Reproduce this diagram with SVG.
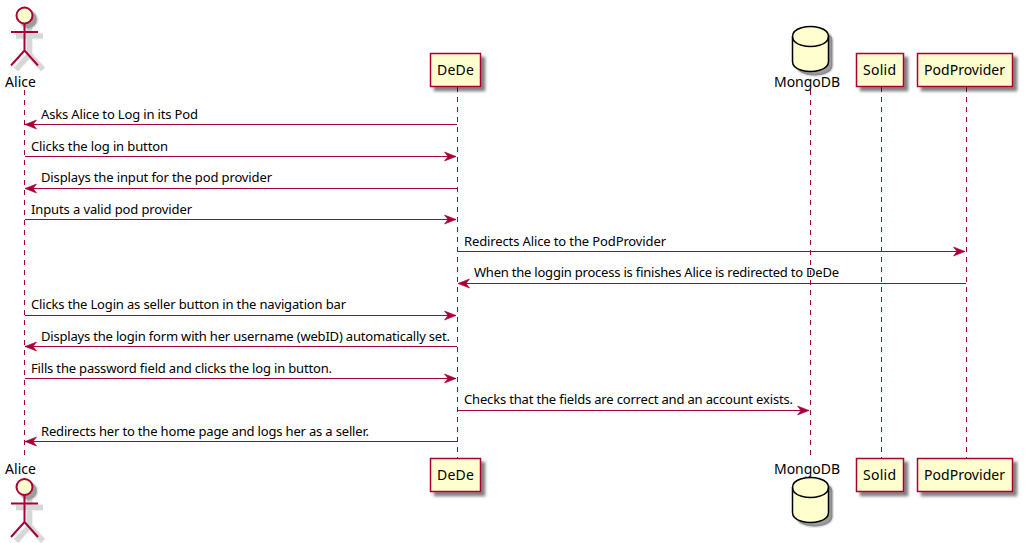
<svg xmlns="http://www.w3.org/2000/svg" width="1025" height="543" viewBox="0 0 1025 543">
<style>
text{font-family:"Noto Sans","DejaVu Sans",sans-serif;fill:#000}
.n{font-size:14px}
.m{font-size:13px}
.box{fill:#FEFECE;stroke:#A80036;stroke-width:1.5}
.act{fill:none;stroke:#A80036;stroke-width:2}
.head{fill:#FEFECE;stroke:#A80036;stroke-width:2}
.as1{fill:none;stroke:#000;stroke-opacity:.06;stroke-width:7}
.as2{fill:none;stroke:#000;stroke-opacity:.1;stroke-width:5}
.hs1{fill:#000;fill-opacity:.12}
.hs2{fill:#000;fill-opacity:.3}
.ds1{fill:#000;fill-opacity:.12;stroke:#000;stroke-opacity:.1;stroke-width:3}
.ds2{fill:#000;fill-opacity:.3}
.db{fill:#FEFECE;stroke:#000;stroke-width:1.5}
.dbl{fill:none;stroke:#000;stroke-width:1.5}
.life{stroke:#A80036;stroke-width:1;stroke-dasharray:5 5;fill:none}
.msg{stroke:#A80036;stroke-width:1;fill:none}
.sh{filter:url(#s)}
</style>
<defs>
<filter id="s" x="-30%" y="-30%" width="170%" height="170%"><feGaussianBlur in="SourceAlpha" stdDeviation="1.7"/><feOffset dx="4" dy="4" result="b"/><feColorMatrix in="b" type="matrix" values="0 0 0 0 0 0 0 0 0 0 0 0 0 0 0 0 0 0 0.5 0" result="c"/><feMerge><feMergeNode in="c"/><feMergeNode in="SourceGraphic"/></feMerge></filter>
<marker id="ar" markerUnits="userSpaceOnUse" markerWidth="14" markerHeight="12" refX="12" refY="5" viewBox="0 0 14 10" orient="auto"><path d="M0.500 0.500L12 5L0.500 9.500L4 5Z" fill="#A80036" stroke="#A80036" stroke-width="0.600"/></marker>
</defs>
<g id="connectors">
<path class="life" d="M24.500 90V458M457.500 87V458M810.500 90V458M881.500 87V458M966.500 87V458"/>
<path class="msg" marker-end="url(#ar)" d="M457 124.500H25"/>
<path class="msg" marker-end="url(#ar)" d="M25 156.500H456"/>
<path class="msg" marker-end="url(#ar)" d="M457 188.500H25"/>
<path class="msg" marker-end="url(#ar)" d="M25 219.500H456"/>
<path class="msg" marker-end="url(#ar)" d="M458 251.500H965"/>
<path class="msg" marker-end="url(#ar)" d="M966 283.500H458"/>
<path class="msg" marker-end="url(#ar)" d="M25 315.500H456"/>
<path class="msg" marker-end="url(#ar)" d="M457 346.500H25"/>
<path class="msg" marker-end="url(#ar)" d="M25 378.500H456"/>
<path class="msg" marker-end="url(#ar)" d="M458 410.500H809"/>
<path class="msg" marker-end="url(#ar)" d="M457 441.500H25"/>
<g class="m">
<text x="41" y="119" textLength="157">Asks Alice to Log in its Pod</text>
<text x="31" y="151" textLength="137">Clicks the log in button</text>
<text x="41" y="182" textLength="231">Displays the input for the pod provider</text>
<text x="31" y="214" textLength="161">Inputs a valid pod provider</text>
<text x="464" y="246" textLength="202">Redirects Alice to the PodProvider</text>
<text x="474" y="277" textLength="365">When the loggin process is finishes Alice is redirected to DeDe</text>
<text x="31" y="309" textLength="315">Clicks the Login as seller button in the navigation bar</text>
<text x="41" y="341" textLength="409">Displays the login form with her username (webID) automatically set.</text>
<text x="31" y="373" textLength="301">Fills the password field and clicks the log in button.</text>
<text x="464" y="404" textLength="329">Checks that the fields are correct and an account exists.</text>
<text x="41" y="436" textLength="328">Redirects her to the home page and logs her as a seller.</text>
</g>
</g>
<g id="alice" class="n">
<path class="as1" d="M29.500 27.500V54.500M16 36H43M29.500 54.500L16 69.500M29.500 54.500L43 69.500"/>
<path class="as2" d="M29.500 27.500V54.500M16 36H43M29.500 54.500L16 69.500M29.500 54.500L43 69.500"/>
<circle class="hs1" cx="28.500" cy="19.500" r="10"/>
<circle class="hs2" cx="28.500" cy="19.500" r="8.500"/>
<path class="act" d="M24.500 23.500V50.500M11 32H38M24.500 50.500L11 65.500M24.500 50.500L38 65.500"/>
<circle class="head" cx="24.500" cy="15.500" r="8"/>
<text x="5" y="87" textLength="31">Alice</text>
<text x="5" y="474" textLength="31">Alice</text>
<g transform="translate(0 471.500)">
<path class="as1" d="M29.500 27.500V54.500M16 36H43M29.500 54.500L16 69.500M29.500 54.500L43 69.500"/>
<path class="as2" d="M29.500 27.500V54.500M16 36H43M29.500 54.500L16 69.500M29.500 54.500L43 69.500"/>
<circle class="hs1" cx="28.500" cy="19.500" r="10"/>
<circle class="hs2" cx="28.500" cy="19.500" r="8.500"/>
<path class="act" d="M24.500 23.500V50.500M11 32H38M24.500 50.500L11 65.500M24.500 50.500L38 65.500"/>
<circle class="head" cx="24.500" cy="15.500" r="8"/>
</g>
</g>
<g id="dede" class="n">
<rect class="box sh" x="430.500" y="53.500" width="50" height="33"/>
<text x="437" y="75" textLength="37">DeDe</text>
<rect class="box sh" x="430.500" y="458.500" width="50" height="33"/>
<text x="437" y="480" textLength="37">DeDe</text>
</g>
<g id="mongodb" class="n">
<path class="ds1" transform="translate(4 4)" d="M792.500 36.500C792.500 26.500 810.500 26.500 810.500 26.500C810.500 26.500 828.500 26.500 828.500 36.500V61.500C828.500 71.500 810.500 71.500 810.500 71.500C810.500 71.500 792.500 71.500 792.500 61.500Z"/>
<path class="ds2" transform="translate(4 4)" d="M792.500 36.500C792.500 26.500 810.500 26.500 810.500 26.500C810.500 26.500 828.500 26.500 828.500 36.500V61.500C828.500 71.500 810.500 71.500 810.500 71.500C810.500 71.500 792.500 71.500 792.500 61.500Z"/>
<path class="db" d="M792.500 36.500C792.500 26.500 810.500 26.500 810.500 26.500C810.500 26.500 828.500 26.500 828.500 36.500V61.500C828.500 71.500 810.500 71.500 810.500 71.500C810.500 71.500 792.500 71.500 792.500 61.500Z"/>
<path class="dbl" d="M792.500 36.500C792.500 46.500 810.500 46.500 810.500 46.500C810.500 46.500 828.500 46.500 828.500 36.500"/>
<text x="774" y="87" textLength="66">MongoDB</text>
<text x="774" y="474" textLength="66">MongoDB</text>
<g transform="translate(0 451)">
<path class="ds1" transform="translate(4 4)" d="M792.500 36.500C792.500 26.500 810.500 26.500 810.500 26.500C810.500 26.500 828.500 26.500 828.500 36.500V61.500C828.500 71.500 810.500 71.500 810.500 71.500C810.500 71.500 792.500 71.500 792.500 61.500Z"/>
<path class="ds2" transform="translate(4 4)" d="M792.500 36.500C792.500 26.500 810.500 26.500 810.500 26.500C810.500 26.500 828.500 26.500 828.500 36.500V61.500C828.500 71.500 810.500 71.500 810.500 71.500C810.500 71.500 792.500 71.500 792.500 61.500Z"/>
<path class="db" d="M792.500 36.500C792.500 26.500 810.500 26.500 810.500 26.500C810.500 26.500 828.500 26.500 828.500 36.500V61.500C828.500 71.500 810.500 71.500 810.500 71.500C810.500 71.500 792.500 71.500 792.500 61.500Z"/>
<path class="dbl" d="M792.500 36.500C792.500 46.500 810.500 46.500 810.500 46.500C810.500 46.500 828.500 46.500 828.500 36.500"/>
</g>
</g>
<g id="solid" class="n">
<rect class="box sh" x="856.500" y="53.500" width="47" height="33"/>
<text x="863" y="75" textLength="33">Solid</text>
<rect class="box sh" x="856.500" y="458.500" width="47" height="33"/>
<text x="863" y="480" textLength="33">Solid</text>
</g>
<g id="podprovider" class="n">
<rect class="box sh" x="917.500" y="53.500" width="95" height="33"/>
<text x="924" y="75" textLength="81">PodProvider</text>
<rect class="box sh" x="917.500" y="458.500" width="95" height="33"/>
<text x="924" y="480" textLength="81">PodProvider</text>
</g>
</svg>
